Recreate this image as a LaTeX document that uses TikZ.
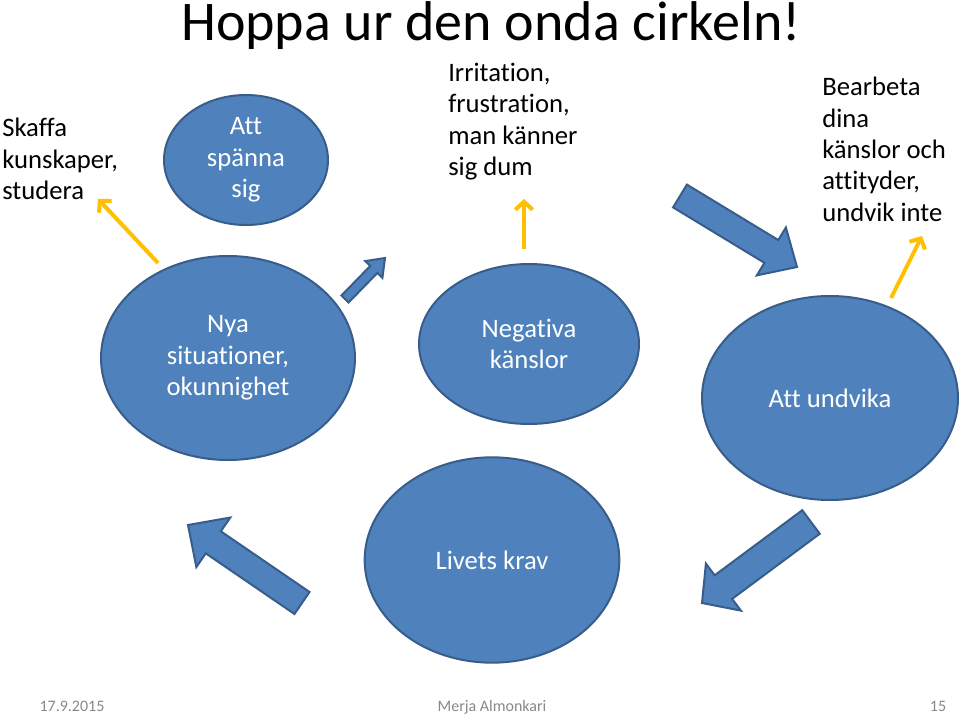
\documentclass[tikz,border=0pt]{standalone}
\usepackage{fontspec}
\setmainfont{Carlito}[Ligatures=NoCommon]
\usetikzlibrary{shapes.geometric,arrows.meta,calc}
\definecolor{slideblue}{RGB}{79,129,189}
\definecolor{slideblueedge}{RGB}{56,93,138}
\definecolor{slideyellow}{RGB}{255,192,0}
\definecolor{footgrey}{RGB}{137,137,137}

\newcommand{\blockarrow}[5]{%
  \coordinate (headbase) at ($(#2)!#5!(#1)$);
  \draw[blockarr] ($(#1)!#3!90:(#2)$) -- ($(headbase)!#3!-90:(#1)$)
    -- ($(headbase)!#4!-90:(#1)$) -- (#2) -- ($(headbase)!#4!90:(#1)$)
    -- ($(headbase)!#3!90:(#1)$) -- ($(#1)!#3!-90:(#2)$) -- cycle;}

\begin{document}
\begin{tikzpicture}[x=0.75pt, y=-0.75pt,
    bubble/.style={ellipse, draw=slideblueedge, line width=1.5pt, fill=slideblue,
                   inner sep=0pt, text=white, align=center, font=\fontsize{20}{23.5}\selectfont},
    note/.style={anchor=north west, align=left, inner sep=0pt, font=\fontsize{20}{23.5}\selectfont},
    blockarr/.style={draw=slideblueedge, line width=1.5pt, fill=slideblue, line join=miter},
    hint/.style={draw=slideyellow, line width=3pt, -{Straight Barb[length=6pt,width=13pt]}},
    foot/.style={anchor=base, inner sep=0pt, font=\fontsize{12}{14}\selectfont, text=footgrey}
]
    \fill[white] (0,0) rectangle (960,717);
    \useasboundingbox (0,0) rectangle (960,717);

    \node[anchor=base, inner sep=0pt, font=\fontsize{42}{48}\selectfont] (title) at (491,41) {Hoppa ur den onda cirkeln!};

    \node[bubble, minimum width=123pt, minimum height=97.5pt] (spanna) at (246,160) {Att\\spänna\\sig};
    \node[bubble, minimum width=190.5pt, minimum height=153pt] (nya) at (228,358) {Nya\\situationer,\\okunnighet};
    \node[bubble, minimum width=165pt, minimum height=120pt] (negativa) at (529,344) {Negativa\\känslor};
    \node[bubble, minimum width=192pt, minimum height=153pt] (undvika) at (830,398) {Att undvika};
    \node[bubble, minimum width=191pt, minimum height=154pt] (krav) at (492,560) {Livets krav};

    \node[note] (skaffa) at (2,118) {Skaffa\\kunskaper,\\studera};
    \node[note] (irritation) at (448,63) {Irritation,\\frustration,\\man känner\\sig dum};
    \node[note] (bearbeta) at (822,77) {Bearbeta\\dina\\känslor och\\attityder,\\undvik inte};

    \coordinate (skaffa-s) at (158,263);
    \coordinate (skaffa-e) at (98,199);
    \coordinate (irritation-s) at (524,249);
    \coordinate (irritation-e) at (524,199);
    \coordinate (bearbeta-s) at (891,298);
    \coordinate (bearbeta-e) at (922,236);
    \draw[hint] (skaffa-s) -- (skaffa-e);
    \draw[hint] (irritation-s) -- (irritation-e);
    \draw[hint] (bearbeta-s) -- (bearbeta-e);

    \coordinate (up-tail) at (345,299);
    \coordinate (up-tip) at (385,258);
    \coordinate (right-tail) at (680,196);
    \coordinate (right-tip) at (797,267);
    \coordinate (down-tail) at (811,522);
    \coordinate (down-tip) at (702,603);
    \coordinate (left-tail) at (302,603);
    \coordinate (left-tip) at (188,525);
    \blockarrow{up-tail}{up-tip}{3.75pt}{9pt}{12pt}
    \blockarrow{right-tail}{right-tip}{10pt}{21pt}{22.5pt}
    \blockarrow{down-tail}{down-tip}{11pt}{22pt}{20pt}
    \blockarrow{left-tail}{left-tip}{10pt}{22.5pt}{23pt}

    \node[foot] (date) at (72,711) {17.9.2015};
    \node[foot] (author) at (492,711) {Merja Almonkari};
    \node[foot] (page) at (938,711) {15};
\end{tikzpicture}
\end{document}
